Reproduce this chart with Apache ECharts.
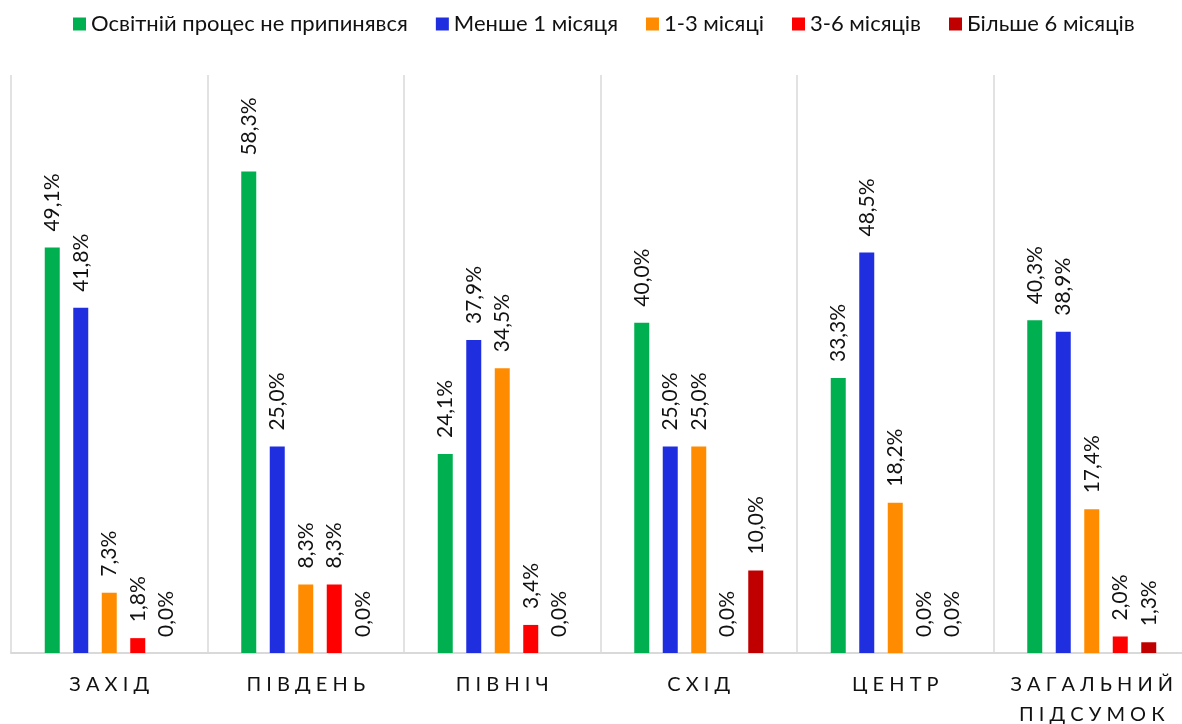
<!DOCTYPE html>
<html>
<head>
<meta charset="utf-8">
<script src="https://cdn.jsdelivr.net/npm/echarts@6/dist/echarts.min.js"></script>
<style>
  html, body { margin: 0; padding: 0; background: #fff; }
  #chart { width: 1182px; height: 724px; }
</style>
</head>
<body>
<div id="chart"></div>
<script>
const categories = ['З А Х І Д', 'П І В Д Е Н Ь', 'П І В Н І Ч', 'С Х І Д', 'Ц Е Н Т Р', 'З А Г А Л Ь Н И Й\nП І Д С У М О К'];
const seriesNames = ['Освітній процес не припинявся', 'Менше 1 місяця', '1-3 місяці', '3-6 місяців', 'Більше 6 місяців'];
const colors = ['#00b050', '#1f2fe0', '#ff8c00', '#ff0000', '#c00000'];
const notStopped = [49.1, 58.3, 24.1, 40.0, 33.3, 40.3];
const lessThan1 = [41.8, 25.0, 37.9, 25.0, 48.5, 38.9];
const from1to3 = [7.3, 8.3, 34.5, 25.0, 18.2, 17.4];
const from3to6 = [1.8, 8.3, 3.4, 0.0, 0.0, 2.0];
const moreThan6 = [0.0, 0.0, 0.0, 10.0, 0.0, 1.3];
const values = [notStopped, lessThan1, from1to3, from3to6, moreThan6];

const font = 'Lato, "Noto Sans", sans-serif';

const chart = echarts.init(document.getElementById('chart'));
chart.setOption({
    animation: false,
    textStyle: { fontFamily: font },
    color: colors,
    legend: {
        top: 8,
        left: 68,
        itemWidth: 13,
        itemHeight: 13,
        itemGap: 28,
        icon: 'rect',
        textStyle: { fontSize: 22, color: '#111', fontFamily: font }
    },
    grid: { left: 11, width: 1179, top: 75, bottom: 71, outerBoundsMode: 'none', containLabel: false },
    xAxis: {
        type: 'category',
        data: categories,
        axisTick: { show: false },
        axisLine: { lineStyle: { color: '#d9d9d9', width: 2 } },
        splitLine: { show: true, lineStyle: { color: '#d9d9d9', width: 1.5 } },
        axisLabel: { fontSize: 20, color: '#111', margin: 17, lineHeight: 30, interval: 0 }
    },
    yAxis: {
        type: 'value',
        min: 0,
        max: 70,
        show: false,
        splitLine: { show: false }
    },
    series: values.map((v, i) => ({
        name: seriesNames[i],
        type: 'bar',
        data: v,
        barWidth: 15,
        barGap: '90%',
        barCategoryGap: '34%',
        label: {
            show: true,
            position: 'top',
            rotate: 90,
            align: 'left',
            verticalAlign: 'middle',
            distance: 16,
            fontSize: 21,
            color: '#111',
            formatter: p => p.value.toFixed(1).replace('.', ',') + '%'
        }
    }))
});
</script>
</body>
</html>
